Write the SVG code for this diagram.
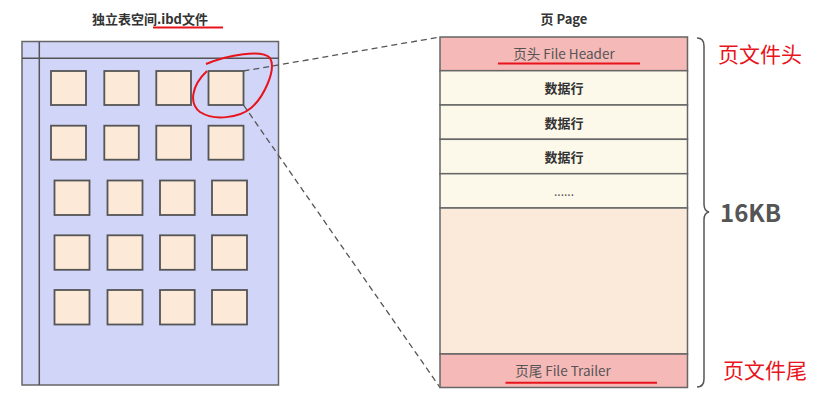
<svg xmlns="http://www.w3.org/2000/svg" width="827" height="402" viewBox="0 0 827 402">
<defs>
<style>
.t{font-family:"Noto Sans CJK SC","Microsoft YaHei",sans-serif;}
.b{font-weight:bold;fill:#333;font-size:13px;text-anchor:middle;}
.sq{fill:#fce9d8;stroke:#555;stroke-width:1.8;}
.row{fill:#fcf8ea;stroke:#666;stroke-width:1.5;}
.red{stroke:#e8141c;stroke-width:2;fill:none;}
.dash{stroke:#555;stroke-width:1.3;stroke-dasharray:6 4;fill:none;}
.lbl{fill:#e8141c;font-size:21px;}
</style>
</defs>
<rect width="827" height="402" fill="#fff"/>
<g id="tablespace">
<text class="t b" x="150" y="24">独立表空间.ibd文件</text>
<line class="red" x1="153" y1="27.5" x2="223" y2="27.5"/>
<rect x="22" y="41.5" width="256.5" height="343.5" fill="#d1d5f7" stroke="#666" stroke-width="1.5"/>
<line x1="39.3" y1="41.5" x2="39.3" y2="385" stroke="#555" stroke-width="1.5"/>
<line x1="22" y1="58.3" x2="278.5" y2="58.3" stroke="#555" stroke-width="1.5"/>
</g>
<g id="pages">
<rect class="sq" x="51" y="71" width="35" height="34"/>
<rect class="sq" x="104.3" y="71" width="34.5" height="34"/>
<rect class="sq" x="156.3" y="71" width="34.7" height="34"/>
<rect class="sq" x="208.5" y="71" width="35" height="34"/>
<rect class="sq" x="51" y="125.7" width="35" height="34"/>
<rect class="sq" x="104.3" y="125.7" width="34.5" height="34"/>
<rect class="sq" x="156.3" y="125.7" width="34.7" height="34"/>
<rect class="sq" x="208.5" y="125.7" width="35" height="34"/>
<rect class="sq" x="54.5" y="180.5" width="35" height="34.5"/>
<rect class="sq" x="107.5" y="180.5" width="35" height="34.5"/>
<rect class="sq" x="160" y="180.5" width="34.7" height="34.5"/>
<rect class="sq" x="212" y="180.5" width="35" height="34.5"/>
<rect class="sq" x="54.5" y="235.3" width="35" height="34.5"/>
<rect class="sq" x="107.5" y="235.3" width="35" height="34.5"/>
<rect class="sq" x="160" y="235.3" width="34.7" height="34.5"/>
<rect class="sq" x="212" y="235.3" width="35" height="34.5"/>
<rect class="sq" x="54.5" y="290" width="35" height="34.5"/>
<rect class="sq" x="107.5" y="290" width="35" height="34.5"/>
<rect class="sq" x="160" y="290" width="34.7" height="34.5"/>
<rect class="sq" x="212" y="290" width="35" height="34.5"/>
</g>
<g id="highlight">
<path class="red" d="M206,64 C228,55 262,49 270,58 C277,70 263,98 251,108 C239,118 214,121 200,112 C189,104 191,86 207,71"/>
</g>
<g id="connectors">
<line class="dash" x1="243.5" y1="71" x2="440" y2="37"/>
<line class="dash" x1="243.5" y1="105" x2="440" y2="387.5"/>
</g>
<g id="page">
<text class="t b" x="564" y="24">页 Page</text>
<rect x="440" y="37" width="247.5" height="33.7" fill="#f5b9b8" stroke="#666" stroke-width="1.5"/>
<text class="t" x="564" y="59" font-size="13.5" fill="#555" text-anchor="middle">页头 File Header</text>
<line class="red" x1="498" y1="63.5" x2="640" y2="63.5"/>
<rect class="row" x="440" y="70.7" width="247.5" height="34.3"/>
<text class="t b" x="564" y="93">数据行</text>
<rect class="row" x="440" y="105" width="247.5" height="34.3"/>
<text class="t b" x="564" y="127.5">数据行</text>
<rect class="row" x="440" y="139.3" width="247.5" height="34.4"/>
<text class="t b" x="564" y="162">数据行</text>
<rect class="row" x="440" y="173.7" width="247.5" height="34.3"/>
<text class="t" x="564" y="196" font-size="12" fill="#555" text-anchor="middle">......</text>
<rect x="440" y="208" width="247.5" height="146" fill="#fbe9da" stroke="#666" stroke-width="1.5"/>
<rect x="440" y="354" width="247.5" height="33.5" fill="#f5b9b8" stroke="#666" stroke-width="1.5"/>
<text class="t" x="563" y="376" font-size="13.5" fill="#555" text-anchor="middle">页尾 File Trailer</text>
<line class="red" x1="505.5" y1="382.7" x2="657" y2="382.7"/>
</g>
<g id="brace">
<path d="M697,38 Q704,38 704,46 L704,204 Q704,211 709,212 Q704,213 704,220 L704,379 Q704,387 697,387" fill="none" stroke="#555" stroke-width="1.5"/>
<text class="t" x="720" y="222" font-size="24" font-weight="bold" fill="#555">16KB</text>
</g>
<g id="labels">
<text class="t lbl" x="718" y="62">页文件头</text>
<text class="t lbl" x="723" y="378">页文件尾</text>
</g>
</svg>
